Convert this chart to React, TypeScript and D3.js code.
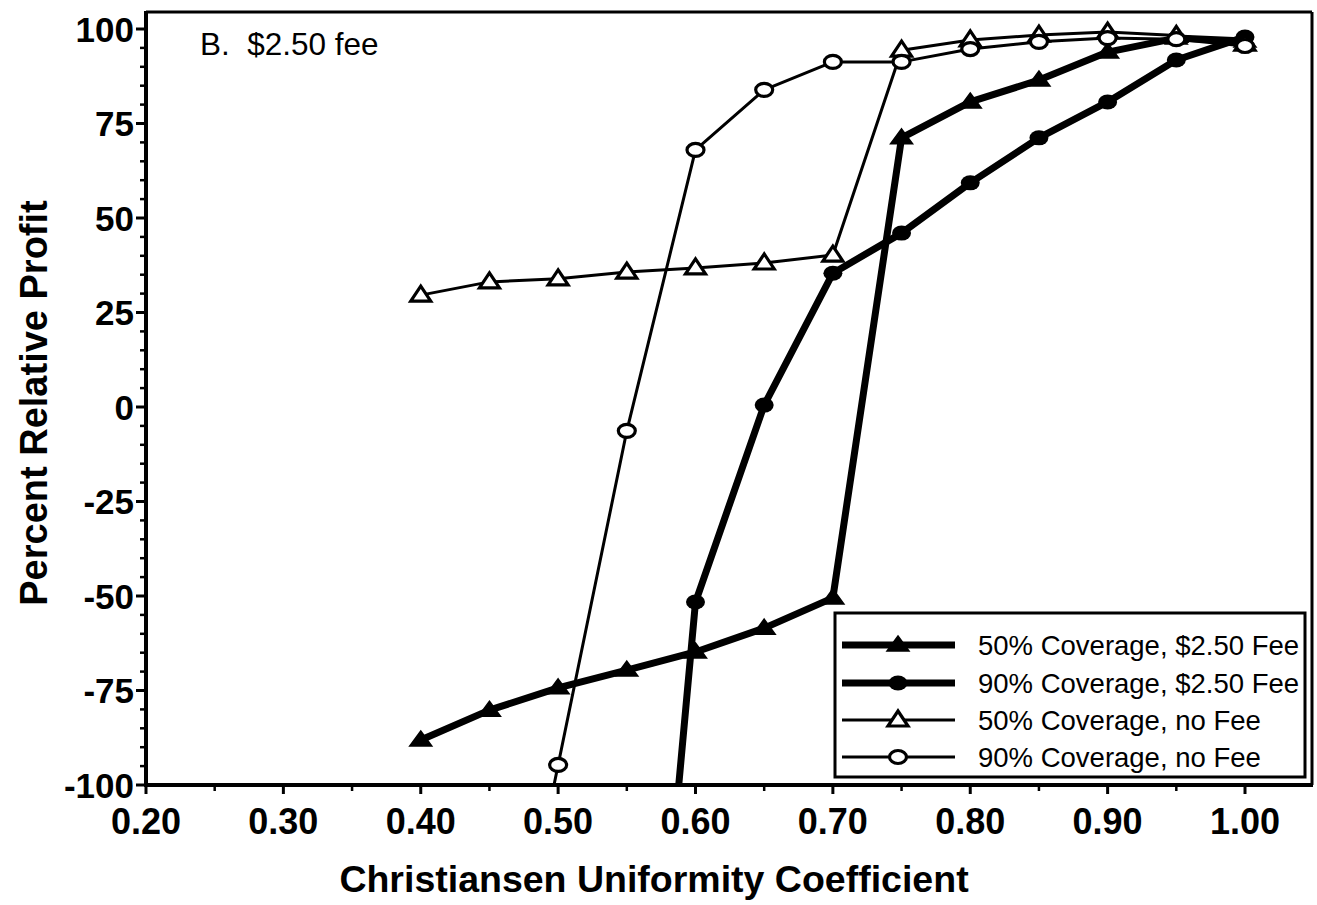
import React from "react";
import * as d3 from "d3";

const cuValues = [0.4, 0.45, 0.5, 0.55, 0.6, 0.65, 0.7, 0.75, 0.8, 0.85, 0.9, 0.95, 1.0];

const fee50 = [-88.1, -80.2, -74.3, -69.6, -64.8, -58.5, -50.5, 71.2, 80.7, 86.5, 93.9, 97.6, 96.8];
const fee90X = [0.55, 0.6, 0.65, 0.7, 0.75, 0.8, 0.85, 0.9, 0.95, 1.0];
const fee90 = [-250, -51.6, 0.5, 35.4, 46, 59.3, 71.2, 80.7, 91.8, 97.9];
const noFee50 = [29.6, 33.1, 33.9, 35.7, 36.8, 38.1, 40.2, 94.4, 97.1, 98.4, 99.2, 98.3, 96.0];
const noFee90X = [0.45, 0.5, 0.55, 0.6, 0.65, 0.7, 0.75, 0.8, 0.85, 0.9, 0.95, 1.0];
const noFee90 = [-183, -94.7, -6.3, 68, 83.9, 91.3, 91.3, 94.7, 96.6, 97.6, 97.3, 95.5];

const xTicks = [0.2, 0.3, 0.4, 0.5, 0.6, 0.7, 0.8, 0.9, 1.0];
const xMinor = [0.25, 0.35, 0.45, 0.55, 0.65, 0.75, 0.85, 0.95];
const yTicks = [100, 75, 50, 25, 0, -25, -50, -75, -100];
const legendLabels = [
  "50% Coverage, $2.50 Fee",
  "90% Coverage, $2.50 Fee",
  "50% Coverage, no Fee",
  "90% Coverage, no Fee",
];

const W = 1317;
const H = 905;
const L = 146, R = 1312, T = 12, B = 785;
const FONT = "'Liberation Sans', Arial, Helvetica, sans-serif";

const x = d3.scaleLinear().domain([0.2, 1.0]).range([146, 1245]);
const y = d3.scaleLinear().domain([-100, 100]).range([785, 29]);

type Pt = [number, number];
const zip = (xs: number[], ys: number[]): Pt[] => xs.map((v, i) => [v, ys[i]]);

const line = d3
  .line<Pt>()
  .x((d) => x(d[0]))
  .y((d) => y(d[1]));

function Marker({ kind, cx, cy }: { kind: string; cx: number; cy: number }) {
  if (kind === "triF") {
    return <path d={`M${cx},${cy - 9} L${cx + 11},${cy + 6} L${cx - 11},${cy + 6} Z`} fill="#000" stroke="#000" strokeWidth={1.5} />;
  }
  if (kind === "triO") {
    return <path d={`M${cx},${cy - 9} L${cx + 10},${cy + 6} L${cx - 10},${cy + 6} Z`} fill="#fff" stroke="#000" strokeWidth={3.2} strokeLinejoin="miter" />;
  }
  if (kind === "cirF") {
    return <ellipse cx={cx} cy={cy} rx={9.5} ry={7.5} fill="#000" />;
  }
  return <ellipse cx={cx} cy={cy} rx={8.5} ry={6.5} fill="#fff" stroke="#000" strokeWidth={3.2} />;
}

const series = [
  { pts: zip(cuValues, fee50), kind: "triF", width: 7 },
  { pts: zip(fee90X, fee90), kind: "cirF", width: 7 },
  { pts: zip(cuValues, noFee50), kind: "triO", width: 3 },
  { pts: zip(noFee90X, noFee90), kind: "cirO", width: 3 },
];

export default function App() {
  const yMinor: number[] = [];
  for (let v = -95; v < 105; v += 5) if (v % 25 !== 0) yMinor.push(v);

  const legendRows = [645, 683, 720, 757];

  return (
    <svg width={W} height={H} style={{ position: "absolute", left: 0, top: 0, background: "#fff" }} fontFamily={FONT}>
      <defs>
        <clipPath id="plotClip">
          <rect x={L} y={T} width={R - L} height={B - T} />
        </clipPath>
      </defs>
      <rect x={0} y={0} width={W} height={H} fill="#fff" />

      {/* series */}
      <g clipPath="url(#plotClip)">
        {series.map((s, i) => (
          <g key={i}>
            <path d={line(s.pts) || ""} fill="none" stroke="#000" strokeWidth={s.width} strokeLinejoin="round" />
            {s.pts
              .filter((p) => p[1] >= -100 && p[1] <= 105)
              .map((p, j) => (
                <Marker key={j} kind={s.kind} cx={x(p[0])} cy={y(p[1])} />
              ))}
          </g>
        ))}
      </g>

      {/* frame */}
      <line x1={L} y1={T} x2={R} y2={T} stroke="#000" strokeWidth={3} />
      <line x1={R} y1={T} x2={R} y2={B} stroke="#000" strokeWidth={3} />
      <line x1={L} y1={T - 1} x2={L} y2={B + 2} stroke="#000" strokeWidth={4} />
      <line x1={L - 2} y1={B} x2={R + 1} y2={B} stroke="#000" strokeWidth={4} />

      {/* y ticks */}
      {yTicks.map((v) => (
        <g key={v}>
          <line x1={L - 10} x2={L} y1={y(v)} y2={y(v)} stroke="#000" strokeWidth={3} />
          <text x={L - 12} y={y(v)} dy="0.36em" textAnchor="end" fontWeight="bold" fontSize={35}>
            {v}
          </text>
        </g>
      ))}
      {yMinor.map((v) => (
        <line key={v} x1={L - 6} x2={L} y1={y(v)} y2={y(v)} stroke="#000" strokeWidth={2.5} />
      ))}

      {/* x ticks */}
      {xTicks.map((v) => (
        <g key={v}>
          <line x1={x(v)} x2={x(v)} y1={B} y2={B + 9} stroke="#000" strokeWidth={3} />
          <text x={x(v)} y={834} textAnchor="middle" fontWeight="bold" fontSize={36}>
            {v.toFixed(2)}
          </text>
        </g>
      ))}
      {xMinor.map((v) => (
        <line key={v} x1={x(v)} x2={x(v)} y1={B} y2={B + 6} stroke="#000" strokeWidth={2.5} />
      ))}

      {/* titles */}
      <text x={654} y={892} textAnchor="middle" fontWeight="bold" fontSize={37.5}>
        Christiansen Uniformity Coefficient
      </text>
      <text transform="translate(47,403) rotate(-90)" textAnchor="middle" fontWeight="bold" fontSize={38}>
        Percent Relative Profit
      </text>
      <text x={200} y={55} fontSize={31.5} style={{ whiteSpace: "pre" }}>
        {"B.  $2.50 fee"}
      </text>

      {/* legend */}
      <rect x={835} y={613} width={470} height={164} fill="#fff" stroke="#000" strokeWidth={3} />
      {series.map((s, i) => (
        <g key={i}>
          <line x1={842} x2={955} y1={legendRows[i]} y2={legendRows[i]} stroke="#000" strokeWidth={s.width} />
          <Marker kind={s.kind} cx={898} cy={legendRows[i]} />
          <text x={978} y={legendRows[i]} dy="0.36em" fontSize={27.5}>
            {legendLabels[i]}
          </text>
        </g>
      ))}
    </svg>
  );
}
